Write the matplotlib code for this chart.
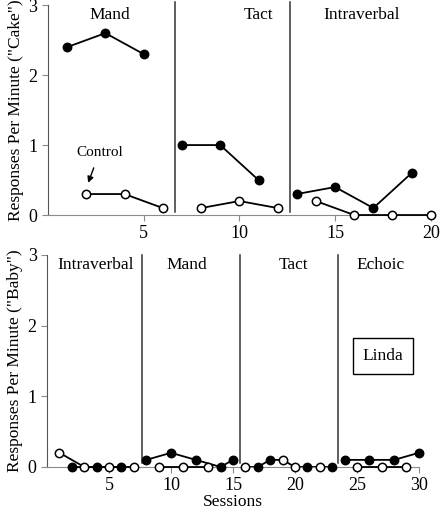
import matplotlib
matplotlib.use('Agg')
import matplotlib.pyplot as plt

plt.rcParams['font.family'] = ['Liberation Serif', 'DejaVu Serif']

#top panel ("Cake")
cakeFilledX = [[1, 3, 5], [7, 9, 11], [13, 15, 17, 19]]
cakeFilledY = [[2.4, 2.6, 2.3], [1.0, 1.0, 0.5], [0.3, 0.4, 0.1, 0.6]]
cakeOpenX = [[2, 4, 6], [8, 10, 12], [14, 16, 18, 20]]
cakeOpenY = [[0.3, 0.3, 0.1], [0.1, 0.2, 0.1], [0.2, 0.0, 0.0, 0.0]]
cakePhases = ['Mand', 'Tact', 'Intraverbal']
cakePhaseLines = [6.65, 12.65]
cakeLabelX = [3.25, 11.0, 16.4]

#bottom panel ("Baby")
babyFilledX = [[2, 4, 6], [8, 10, 12, 14, 15], [17, 18, 21, 23], [24, 26, 28, 30]]
babyFilledY = [[0, 0, 0], [0.1, 0.2, 0.1, 0.0, 0.1], [0, 0.1, 0, 0], [0.1, 0.1, 0.1, 0.2]]
babyOpenX = [[1, 3, 5, 7], [9, 11, 13], [16, 19, 20, 22], [25, 27, 29]]
babyOpenY = [[0.2, 0, 0, 0], [0, 0, 0], [0, 0.1, 0, 0], [0, 0, 0]]
babyPhases = ['Intraverbal', 'Mand', 'Tact', 'Echoic']
babyPhaseLines = [7.65, 15.6, 23.5]
babyLabelX = [3.9, 11.3, 19.9, 26.9]
#in the Tact phase the points are joined in session order
joinedPhase = 2

fig = plt.figure(figsize=(4.4, 5.12), dpi=100)
axTop = fig.add_axes([0.109, 0.580, 0.870, 0.410])
axBot = fig.add_axes([0.107, 0.088, 0.845, 0.414])

def styleAxis(ax, xmax, ticks):
    ax.set_xlim(0, xmax)
    ax.set_ylim(0, 3)
    ax.set_xticks(ticks)
    ax.set_yticks([0, 1, 2, 3])
    ax.spines['top'].set_visible(False)
    ax.spines['right'].set_visible(False)
    ax.spines['bottom'].set_color('#8a8a8a')
    ax.spines['left'].set_color('#555555')
    ax.tick_params(axis='both', labelsize=13, length=4, colors='#8a8a8a', labelcolor='black')

def drawSeries(ax, xs, ys, filled):
    for x, y in zip(xs, ys):
        ax.plot(x, y, '-', color='black', lw=1.3, marker='o', ms=6,
                mfc='black' if filled else 'white', mec='black', mew=1.1,
                clip_on=False, zorder=3)

#top
styleAxis(axTop, 20, [5, 10, 15, 20])
drawSeries(axTop, cakeFilledX, cakeFilledY, True)
drawSeries(axTop, cakeOpenX, cakeOpenY, False)
for xl in cakePhaseLines:
    axTop.plot([xl, xl], [0.05, 3.05], color='#333333', lw=1.1, clip_on=False)
for lab, xp in zip(cakePhases, cakeLabelX):
    axTop.text(xp, 2.86, lab, ha='center', va='center', fontsize=12.5)
axTop.annotate('Control', xy=(2.1, 0.46), xytext=(2.7, 0.9), ha='center', va='center',
               fontsize=11, arrowprops=dict(arrowstyle='-|>', color='black', lw=1.0,
                                            mutation_scale=9, shrinkA=5, shrinkB=0))
axTop.set_ylabel('Responses Per Minute ("Cake")', fontsize=12.5, labelpad=3)

#bottom
styleAxis(axBot, 30, [5, 10, 15, 20, 25, 30])
for i in range(len(babyPhases)):
    if i == joinedPhase:
        pts = sorted(list(zip(babyFilledX[i], babyFilledY[i])) + list(zip(babyOpenX[i], babyOpenY[i])))
        axBot.plot([p[0] for p in pts], [p[1] for p in pts], '-', color='black', lw=1.3, zorder=2)
        axBot.plot(babyFilledX[i], babyFilledY[i], 'o', ms=6, mfc='black', mec='black', clip_on=False, zorder=3)
        axBot.plot(babyOpenX[i], babyOpenY[i], 'o', ms=6, mfc='white', mec='black', mew=1.1, clip_on=False, zorder=3)
    else:
        drawSeries(axBot, [babyFilledX[i]], [babyFilledY[i]], True)
        drawSeries(axBot, [babyOpenX[i]], [babyOpenY[i]], False)
for xl in babyPhaseLines:
    axBot.plot([xl, xl], [0.05, 3.0], color='#333333', lw=1.1, clip_on=False)
for lab, xp in zip(babyPhases, babyLabelX):
    axBot.text(xp, 2.86, lab, ha='center', va='center', fontsize=12.5)
axBot.text(27.1, 1.57, 'Linda', ha='center', va='center', fontsize=12.5,
           bbox=dict(boxstyle='square,pad=0.55', fc='white', ec='black', lw=1.0))
axBot.set_ylabel('Responses Per Minute ("Baby")', fontsize=12.5, labelpad=3)
axBot.set_xlabel('Sessions', fontsize=12.5, labelpad=0)

fig.savefig('out.png', dpi=100)
